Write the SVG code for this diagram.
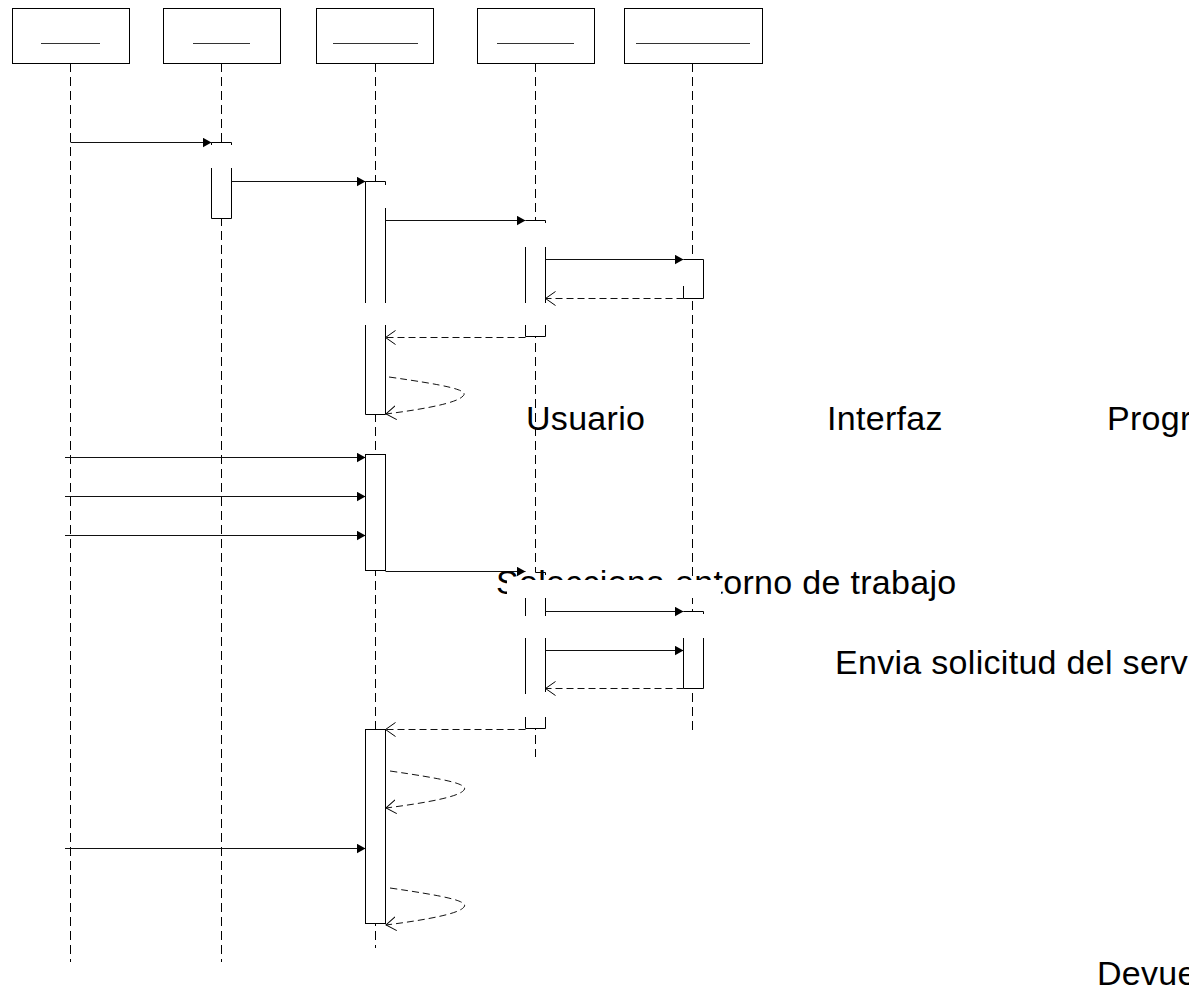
<svg xmlns="http://www.w3.org/2000/svg" width="1189" height="994" viewBox="0 0 1189 994">
<style>
.hdr{fill:#fff;stroke:#000;stroke-width:1}
.uline{stroke:#333;stroke-width:1}
.life{stroke:#000;stroke-width:1;stroke-dasharray:9,5;fill:none}
.actf{fill:#fff;stroke:none}
.acte{stroke:#000;stroke-width:1;fill:none}
.actb{stroke:#000;stroke-width:1;fill:#fff}
.msg{stroke:#111;stroke-width:1;fill:none;marker-end:url(#filled)}
.ret{stroke:#111;stroke-width:1;fill:none;stroke-dasharray:7,4;marker-end:url(#open)}
.lbl{font-family:"Liberation Sans",Arial,sans-serif;font-size:34px;fill:#000;letter-spacing:0.3px}
</style>
<defs>
<marker id="filled" markerUnits="userSpaceOnUse" markerWidth="10" markerHeight="10" refX="9" refY="5" orient="auto">
<path d="M0,0 L9,5 L0,10 Z" fill="#000" stroke="none"/>
</marker>
<marker id="open" markerUnits="userSpaceOnUse" markerWidth="12" markerHeight="16" refX="10" refY="7" orient="auto">
<path d="M0,0 L10,7 L0,14" fill="none" stroke="#000" stroke-width="1"/>
</marker>
</defs>
<rect width="1189" height="994" fill="#fff"/>

<g id="lifelines">
<line class="life" x1="70.5" y1="63" x2="70.5" y2="962"/>
<line class="life" x1="221.5" y1="63" x2="221.5" y2="962"/>
<line class="life" x1="375.5" y1="63" x2="375.5" y2="948"/>
<line class="life" x1="535.5" y1="63" x2="535.5" y2="757"/>
<line class="life" x1="692.5" y1="63" x2="692.5" y2="733"/>
</g>

<g id="node-obj1">
<rect class="hdr" x="12.5" y="8.5" width="117" height="55"/>
<line class="uline" x1="41" y1="43.5" x2="100" y2="43.5"/>
</g>
<g id="node-obj2">
<rect class="hdr" x="163.5" y="8.5" width="117" height="55"/>
<line class="uline" x1="193" y1="43.5" x2="250" y2="43.5"/>
</g>
<g id="node-obj3">
<rect class="hdr" x="316.5" y="8.5" width="117" height="55"/>
<line class="uline" x1="333" y1="43.5" x2="418" y2="43.5"/>
</g>
<g id="node-obj4">
<rect class="hdr" x="477.5" y="8.5" width="117" height="55"/>
<line class="uline" x1="497" y1="43.5" x2="574" y2="43.5"/>
</g>
<g id="node-obj5">
<rect class="hdr" x="624.5" y="8.5" width="138" height="55"/>
<line class="uline" x1="636" y1="43.5" x2="750" y2="43.5"/>
</g>

<g id="activations">
<g id="act1">
<rect class="actf" x="211.5" y="142.5" width="20" height="76"/>
<path class="acte" d="M211.5,142.5 H231.5 M211.5,142.5 V145 M231.5,142.5 V145 M211.5,168 V218.5 H231.5 V168"/>
</g>
<g id="act2">
<rect class="actf" x="365.5" y="181.5" width="20" height="233"/>
<path class="acte" d="M365.5,181.5 H385.5 V185 M385.5,208 V303 M365.5,181.5 V303 M365.5,325 V414.5 H385.5 V325"/>
</g>
<g id="act3">
<rect class="actf" x="525.5" y="220.5" width="20" height="116"/>
<path class="acte" d="M525.5,220.5 H545.5 V223 M525.5,247 V303 M545.5,247 V303 M525.5,325 V336.5 H545.5 V325"/>
</g>
<g id="act4">
<rect class="actf" x="683.5" y="259.5" width="20" height="39"/>
<path class="acte" d="M683.5,259.5 H703.5 V298.5 H683.5 V286"/>
</g>
<g id="act5">
<rect class="actb" x="365.5" y="454.5" width="20" height="116"/>
</g>
<g id="act6">
<rect class="actf" x="525.5" y="572.5" width="20" height="156"/>
<path class="acte" d="M535.5,572.5 H545.5 V575 M525.5,598 V616 M545.5,598 V616 M525.5,638 V694 M545.5,638 V692 M525.5,717 V728.5 H545.5 V717"/>
</g>
<g id="act7">
<rect class="actf" x="683.5" y="611.5" width="20" height="77"/>
<path class="acte" d="M683.5,611.5 H703.5 V614 M703.5,638 V688.5 H683.5 V638"/>
</g>
<g id="act8">
<rect class="actb" x="365.5" y="729.5" width="20" height="194"/>
</g>
</g>

<g id="connectors">
<line class="msg" x1="70.5" y1="142.5" x2="211.5" y2="142.5"/>
<line class="msg" x1="231.5" y1="181.5" x2="365.5" y2="181.5"/>
<line class="msg" x1="385.5" y1="220.5" x2="525.5" y2="220.5"/>
<line class="msg" x1="545.5" y1="259.5" x2="683.5" y2="259.5"/>
<line class="ret" x1="683.5" y1="298.5" x2="545.5" y2="298.5"/>
<line class="ret" x1="525.5" y1="337.5" x2="385.5" y2="337.5"/>
<path class="ret" d="M389,377 C445,385 470,390 463,396 C457,403 425,409 386,414"/>
<line class="msg" x1="65" y1="457.5" x2="365.5" y2="457.5"/>
<line class="msg" x1="65" y1="496.5" x2="365.5" y2="496.5"/>
<line class="msg" x1="65" y1="535.5" x2="365.5" y2="535.5"/>
<line class="msg" x1="385.5" y1="571.5" x2="525.5" y2="571.5"/>
<line class="msg" x1="545.5" y1="611.5" x2="683.5" y2="611.5"/>
<line class="msg" x1="545.5" y1="650.5" x2="683.5" y2="650.5"/>
<line class="ret" x1="683.5" y1="688.5" x2="545.5" y2="688.5"/>
<line class="ret" x1="525.5" y1="729.5" x2="385.5" y2="729.5"/>
<path class="ret" d="M390,771 C445,779 469,784 464,790 C459,797 425,803 386,808"/>
<line class="msg" x1="65" y1="848.5" x2="365.5" y2="848.5"/>
<path class="ret" d="M390,888 C445,896 469,901 464,907 C459,914 425,920 386,925"/>
</g>

<g id="labels">
<text class="lbl" x="526" y="430">Usuario</text>
<text class="lbl" x="827" y="430">Interfaz</text>
<text class="lbl" x="1107" y="430">Progr</text>
<text class="lbl" x="496" y="594">Selecciona entorno de trabajo</text>
<rect x="507" y="580" width="214" height="18" fill="#fff"/>
<text class="lbl" x="835" y="674">Envia solicitud del serv</text>
<text class="lbl" x="1097" y="985">Devue</text>
</g>
</svg>
